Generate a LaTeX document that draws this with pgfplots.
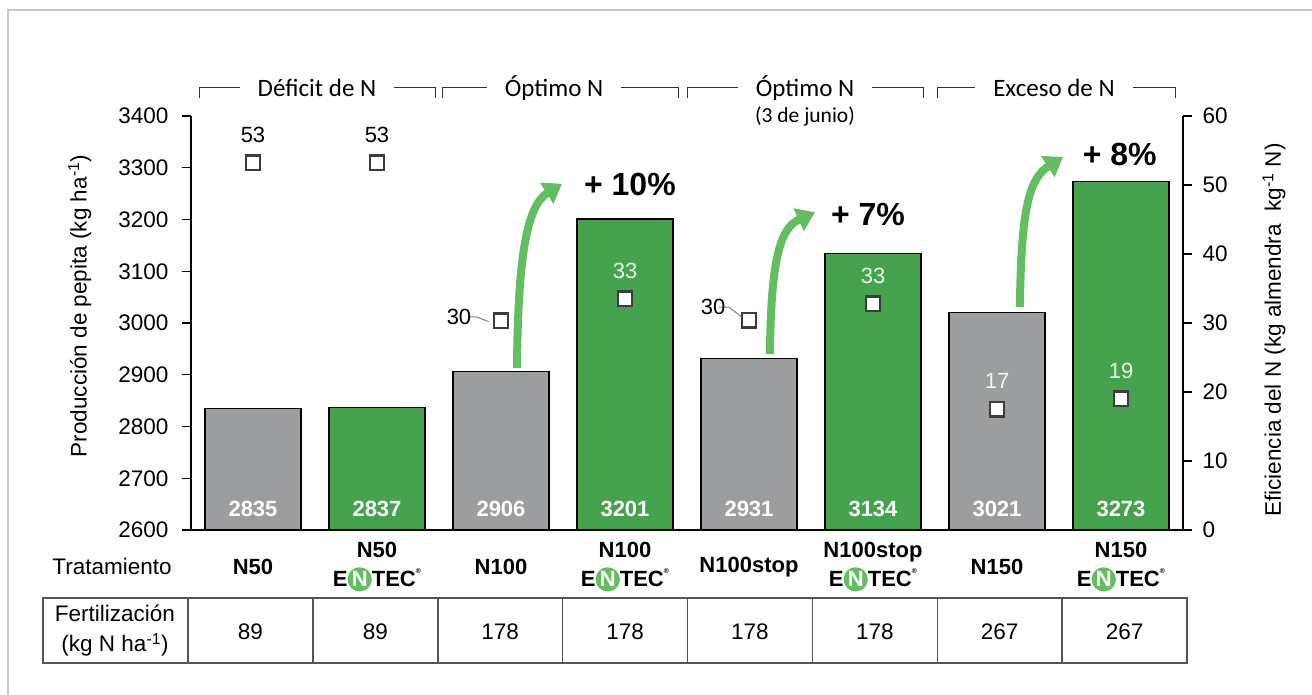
\documentclass[border=0pt]{standalone}
\usepackage{pgfplots}
\pgfplotsset{compat=1.18}
\usepackage{fontspec}
\setmainfont{Liberation Sans}
\newfontfamily\calibri{Carlito}
\usetikzlibrary{arrows.meta}
\definecolor{bargray}{HTML}{9B9D9F}
\definecolor{bargreen}{HTML}{45A34D}
\definecolor{arrowgreen}{HTML}{63BE5F}
\definecolor{framegray}{HTML}{C8C8C8}
\definecolor{markgray}{HTML}{3C3C3C}
\definecolor{tablegray}{HTML}{555555}

\newcommand{\entec}{E\tikz[baseline=(n.base)]\node[anchor=base,circle,fill=arrowgreen,text=white,inner sep=0pt,minimum size=1.1em,xshift=0pt,yshift=0pt](n){N};TEC\raisebox{0.6em}{\fontsize{7}{7}\selectfont ®}}

\begin{document}
\begin{tikzpicture}
\useasboundingbox (0pt,0pt) rectangle (1312pt,-695pt);
% outer frame
\draw[framegray, line width=1.5pt] (8pt,-695pt) -- (8pt,-10pt) -- (1312pt,-10pt);

\begin{axis}[
  at={(191pt,-530pt)}, anchor=south west,
  scale only axis, width=992pt, height=414pt,
  xmin=-0.5, xmax=7.5, ymin=2600, ymax=3400,
  axis x line*=bottom, axis y line*=left,
  axis line style={line width=1.3pt, black},
  ytick={2600,2700,...,3400},
  xtick={0,...,7},
  xticklabels={N50, {N50\\\entec}, N100, {N100\\\entec}, N100stop, {N100stop\\\entec}, N150, {N150\\\entec}},
  xtick style={draw=none},
  ytick style={line width=1.3pt, black},
  tick align=outside, major tick length=9pt,
  /pgf/number format/assume math mode=true,
  /pgf/number format/1000 sep={},
  yticklabel style={font=\fontsize{22.5}{26}\selectfont, xshift=-10pt},
  xticklabel style={font=\bfseries\fontsize{22}{29}\selectfont, align=center, anchor=center, yshift=-28pt},
  ylabel={Producción de pepita (kg ha\textsuperscript{-1})},
  ylabel style={font=\fontsize{22.5}{26}\selectfont, at={(axis description cs:-0.112,0.541)}, anchor=center, rotate=0},
]
\addplot[ybar, bar width=96pt, bar shift=0pt, fill=bargray, draw=black, line width=1.2pt]
  coordinates {(0,2835) (2,2906) (4,2931) (6,3021)};
\addplot[ybar, bar width=96pt, bar shift=0pt, fill=bargreen, draw=black, line width=1.2pt]
  coordinates {(1,2837) (3,3201) (5,3134) (7,3273)};
\addplot[draw=none, nodes near coords, point meta=explicit symbolic,
  nodes near coords style={text=white, font=\bfseries\fontsize{22}{22}\selectfont, anchor=base, yshift=14pt}]
  table[meta=lab]{
x y lab
0 2600 2835
1 2600 2837
2 2600 2906
3 2600 3201
4 2600 2931
5 2600 3134
6 2600 3021
7 2600 3273
};
% curved arrows
\draw[arrowgreen, line width=8pt, -{Triangle[width=24pt,length=18pt]}]
  (axis cs:2.129,2913) .. controls (axis cs:2.137,3141) and (axis cs:2.218,3228) .. (axis cs:2.492,3269);
\draw[arrowgreen, line width=8pt, -{Triangle[width=24pt,length=18pt]}]
  (axis cs:4.169,2940) .. controls (axis cs:4.177,3131) and (axis cs:4.258,3184) .. (axis cs:4.532,3214);
\draw[arrowgreen, line width=8pt, -{Triangle[width=24pt,length=18pt]}]
  (axis cs:6.185,3031) .. controls (axis cs:6.194,3228) and (axis cs:6.266,3280) .. (axis cs:6.532,3321);
\node[font=\bfseries\fontsize{32}{32}\selectfont] at (axis cs:3.04,3267) {+ 10\%};
\node[font=\bfseries\fontsize{32}{32}\selectfont] at (axis cs:4.96,3209) {+ 7\%};
\node[font=\bfseries\fontsize{32}{32}\selectfont] at (axis cs:6.99,3325) {+ 8\%};
\end{axis}

\begin{axis}[
  at={(191pt,-530pt)}, anchor=south west,
  scale only axis, width=992pt, height=414pt,
  xmin=-0.5, xmax=7.5, ymin=0, ymax=60,
  axis x line=none, axis y line*=right,
  axis line style={line width=1.3pt, black},
  ytick={0,10,...,60},
  ytick style={line width=1.3pt, black},
  tick align=outside, major tick length=9pt,
  /pgf/number format/assume math mode=true,
  yticklabel style={font=\fontsize{22.5}{26}\selectfont, anchor=west, xshift=7pt},
  ylabel={Eficiencia del N (kg almendra~ kg\textsuperscript{-1} N)},
  ylabel style={font=\fontsize{22.5}{26}\selectfont, at={(axis description cs:1.0917,0.483)}, anchor=center, rotate=0},
  clip=false,
]
\addplot[only marks, mark=square*, mark size=7.2pt, mark options={fill=white, draw=markgray, line width=2.5pt},
  nodes near coords, point meta=explicit symbolic,
  visualization depends on={\thisrow{dx} \as \dx},
  visualization depends on={\thisrow{dy} \as \dy},
  nodes near coords style={text=black, font=\fontsize{22}{22}\selectfont, anchor=center, xshift=\dx pt, yshift=\dy pt}]
  table[meta=lab]{
x y lab dx dy
0 53.2 53 0 28
1 53.2 53 0 28
2 30.3 30 -42 4
4 30.4 30 -36 13
};
\addplot[only marks, mark=square*, mark size=7.2pt, mark options={fill=white, draw=markgray, line width=2.5pt},
  nodes near coords, point meta=explicit symbolic,
  nodes near coords style={text=white!92!green, font=\fontsize{22}{22}\selectfont, anchor=center, yshift=28pt}]
  table[meta=lab]{
x y lab
3 33.5 33
5 32.8 33
6 17.5 17
7 19.0 19
};
% leader lines for the "30" labels
\draw[gray, line width=1pt] (axis cs:1.73,30.9) -- (axis cs:1.80,30.9) -- (axis cs:1.90,30.2);
\draw[gray, line width=1pt] (axis cs:3.76,32.3) -- (axis cs:3.84,32.3) -- (axis cs:3.96,30.6);
\end{axis}

% group headers
\begin{scope}[line width=1pt, black!80]
\draw (199pt,-98pt) -- (199pt,-88pt) -- (435pt,-88pt) -- (435pt,-98pt);
\draw (442pt,-98pt) -- (442pt,-88pt) -- (678pt,-88pt) -- (678pt,-98pt);
\draw (687pt,-98pt) -- (687pt,-88pt) -- (923pt,-88pt) -- (923pt,-98pt);
\draw (937pt,-98pt) -- (937pt,-88pt) -- (1175pt,-88pt) -- (1175pt,-98pt);
\end{scope}
\begin{scope}[every node/.style={fill=white, inner xsep=18pt, inner ysep=2pt, font=\calibri\fontsize{25}{25}\selectfont}]
\node at (317pt,-88pt) {Déficit de N};
\node at (554pt,-88pt) {Óptimo N};
\node at (805pt,-88pt) {Óptimo N};
\node at (1054pt,-88pt) {Exceso de N};
\end{scope}
\node[font=\calibri\fontsize{21.5}{21.5}\selectfont] at (805pt,-116pt) {(3 de junio)};

% row labels
\node[font=\fontsize{22.5}{26}\selectfont] at (112pt,-566pt) {Tratamiento};

% table
\begin{scope}[tablegray, line width=1.5pt]
\draw (43pt,-598pt) rectangle (1187pt,-663pt);
\foreach \k in {0,...,7} {
  \draw ({188pt+124.875pt*\k},-598pt) -- ({188pt+124.875pt*\k},-663pt);
}
\end{scope}
\node[font=\fontsize{22.5}{30}\selectfont, align=center] at (115pt,-631pt) {Fertilización\\(kg N ha\textsuperscript{-1})};
\foreach \v [count=\k from 0] in {89,89,178,178,178,178,267,267} {
  \node[font=\fontsize{22.5}{26}\selectfont] at ({188pt+124.875pt*(\k+0.5)},-632pt) {\v};
}
\end{tikzpicture}
\end{document}
